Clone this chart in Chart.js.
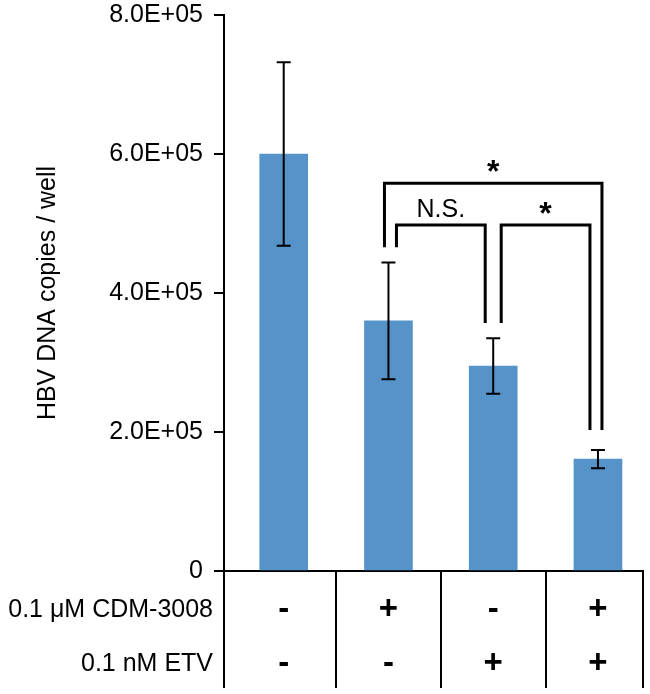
<!DOCTYPE html>
<html lang="en">
<head>
  <meta charset="UTF-8" />
  <title>HBV DNA copies</title>
  <script src="https://cdn.jsdelivr.net/npm/chart.js"></script>
  <style>
    body {
      margin: 0;
      background: #ffffff;
    }
    #wrap {
      width: 650px;
      height: 694px;
    }
  </style>
</head>
<body>
  <div id="wrap">
    <canvas id="barChart" width="650" height="694"></canvas>
  </div>

  <script>
    // data
    const groups = [0, 1, 2, 3];
    const copies = [600000, 360000, 295000, 161000];
    const sdev = [132000, 84000, 40000, 13000];
    const yTicks = [0, 200000, 400000, 600000, 800000];

    // treatment table under the axis
    const rowLabels = ['0.1 \u03bcM CDM-3008', '0.1 nM ETV'];
    const cdm = ['-', '+', '-', '+'];
    const etv = ['-', '-', '+', '+'];

    // significance brackets
    const brFrom = [1, 1, 2];
    const brTo = [3, 2, 3];
    const brTop = [558000, 498000, 498000];
    const brLeftEnd = [466000, 466000, 357000];
    const brRightEnd = [203000, 357000, 203000];
    const brLabel = ['*', 'N.S.', '*'];
    const brOuter = [true, false, false];

    const FONT = "'Liberation Sans', Arial, sans-serif";

    function sci(v) {
      if (v === 0) return '0';
      const parts = v.toExponential(1).split('e');
      const e = parts[1];
      return parts[0] + 'E' + e[0] + e.slice(1).padStart(2, '0');
    }

    const extras = {
      id: 'extras',
      afterDatasetsDraw(chart) {
        const ctx = chart.ctx;
        const x = chart.scales.x;
        const y = chart.scales.y;
        const area = chart.chartArea;

        // error bars
        ctx.save();
        ctx.strokeStyle = '#000';
        ctx.lineWidth = 2;
        groups.forEach((g, i) => {
          const cx = x.getPixelForValue(g);
          const hi = y.getPixelForValue(copies[i] + sdev[i]);
          const lo = y.getPixelForValue(copies[i] - sdev[i]);
          ctx.beginPath();
          ctx.moveTo(cx, hi); ctx.lineTo(cx, lo);
          ctx.moveTo(cx - 7, hi); ctx.lineTo(cx + 7, hi);
          ctx.moveTo(cx - 7, lo); ctx.lineTo(cx + 7, lo);
          ctx.stroke();
        });

        // brackets
        ctx.lineWidth = 3;
        ctx.lineJoin = 'miter';
        ctx.fillStyle = '#000';
        ctx.textAlign = 'center';
        ctx.textBaseline = 'alphabetic';
        brFrom.forEach((f, i) => {
          const off = brOuter[i] ? -4 : 8;
          const x1 = x.getPixelForValue(f) + off;
          const x2 = x.getPixelForValue(brTo[i]) - off;
          const top = y.getPixelForValue(brTop[i]);
          ctx.beginPath();
          ctx.moveTo(x1, y.getPixelForValue(brLeftEnd[i]));
          ctx.lineTo(x1, top);
          ctx.lineTo(x2, top);
          ctx.lineTo(x2, y.getPixelForValue(brRightEnd[i]));
          ctx.stroke();
          const star = brLabel[i] === '*';
          ctx.font = (star ? 'bold 32px ' : '25px ') + FONT;
          ctx.fillText(brLabel[i], (x1 + x2) / 2, top - (star ? 1 : 8));
        });

        // table below the axis
        const bottom = area.bottom;
        const tableEnd = bottom + 117;
        ctx.lineWidth = 2;
        ctx.beginPath();
        const edges = [x.min].concat(groups.map(g => g + 0.5));
        edges[edges.length - 1] = x.max;
        edges.forEach(v => {
          const px = Math.round(x.getPixelForValue(v));
          ctx.moveTo(px, bottom);
          ctx.lineTo(px, tableEnd);
        });
        ctx.stroke();

        const rowY = [bottom + 39, bottom + 93];
        ctx.textBaseline = 'middle';
        ctx.textAlign = 'right';
        ctx.font = '25px ' + FONT;
        rowLabels.forEach((t, r) => ctx.fillText(t, area.left - 11, rowY[r]));

        ctx.textAlign = 'center';
        ctx.font = 'bold 33px ' + FONT;
        groups.forEach((g, i) => {
          const cx = x.getPixelForValue(g);
          ctx.fillText(cdm[i], cx, rowY[0]);
          ctx.fillText(etv[i], cx, rowY[1]);
        });
        ctx.restore();
      }
    };

    new Chart(document.getElementById('barChart'), {
      type: 'bar',
      data: {
        datasets: [{
          data: groups.map((g, i) => ({ x: g, y: copies[i] })),
          backgroundColor: '#5693c9',
          barThickness: 48
        }]
      },
      options: {
        responsive: false,
        animation: false,
        layout: { padding: { top: 15, right: 7, left: 0, bottom: 0 } },
        plugins: {
          legend: { display: false },
          tooltip: { enabled: false }
        },
        scales: {
          x: {
            type: 'linear',
            offset: false,
            min: -0.57,
            max: 3.43,
            grid: { display: false },
            ticks: { display: false },
            border: { display: true, color: '#000', width: 2 },
            afterFit: s => {
              s.height = 123;
              s.paddingLeft = 0;
              s.paddingRight = 0;
            }
          },
          y: {
            min: 0,
            max: 800000,
            afterBuildTicks: s => { s.ticks = yTicks.map(v => ({ value: v })); },
            ticks: {
              color: '#000',
              padding: 11,
              font: { family: FONT, size: 25 },
              callback: v => sci(v)
            },
            grid: {
              drawOnChartArea: false,
              drawTicks: true,
              tickLength: 10,
              color: '#000',
              lineWidth: 2
            },
            border: { display: true, color: '#000', width: 2 },
            title: {
              display: true,
              text: 'HBV DNA copies / well',
              color: '#000',
              font: { family: FONT, size: 25 },
              padding: { top: 33, bottom: 0 }
            },
            afterFit: s => {
              s.width = 224;
              s.paddingTop = 0;
              s.paddingBottom = 0;
            }
          }
        }
      },
      plugins: [extras]
    });
  </script>
</body>
</html>
